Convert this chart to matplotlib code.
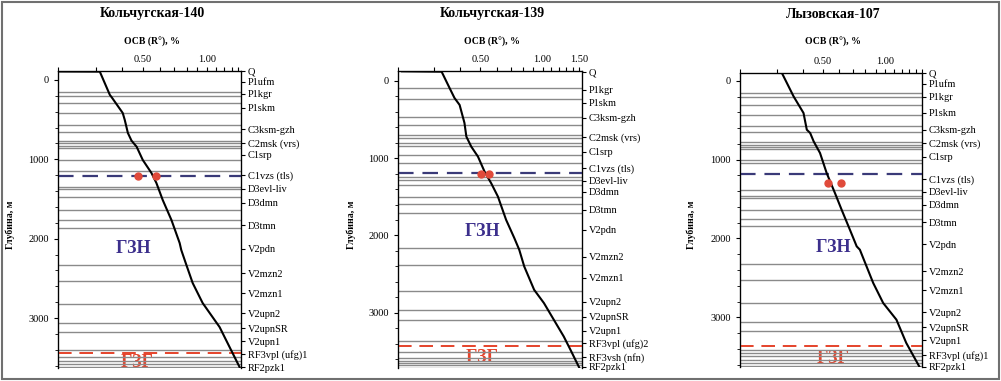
import numpy as np
import matplotlib.pyplot as plt
from matplotlib.patches import Rectangle
from matplotlib.ticker import FixedLocator, NullFormatter, MultipleLocator

plt.rcParams['font.family'] = ['Liberation Serif', 'DejaVu Serif']

# ---- Кольчугская-140 ----
K140_RO = [0.2, 0.314, 0.350, 0.356, 0.402, 0.411, 0.425, 0.442, 0.467, 0.499, 0.548,
           0.578, 0.619, 0.680, 0.743, 0.756, 0.799, 0.855, 0.952, 1.143, 1.273, 1.418]
K140_DEPTH = [-107, -105, 189, 214, 416, 504, 668, 765, 841, 1008, 1172,
              1298, 1513, 1765, 2055, 2143, 2332, 2559, 2811, 3114, 3366, 3618]
K140_BOUNDS = [147, 198, 290, 416, 567, 652, 765, 798, 832, 857, 1008, 1143, 1345,
               1378, 1471, 1639, 1765, 1869, 2332, 2534, 2824, 3067, 3180, 3403,
               3496, 3538, 3580, 3622]
K140_FM = ['Q', 'P1ufm', 'P1kgr', 'P1skm', 'C3ksm-gzh', 'C2msk (vrs)', 'C1srp',
           'C1vzs (tls)', 'D3evl-liv', 'D3dmn', 'D3tmn', 'V2pdn', 'V2mzn2', 'V2mzn1',
           'V2upn2', 'V2upnSR', 'V2upn1', 'RF3vpl (ufg)1', 'RF2pzk1']
K140_FM_DEPTH = [-113, 25, 176, 353, 618, 794, 945, 1198, 1374, 1550, 1828, 2130,
                 2433, 2685, 2937, 3126, 3290, 3454, 3618]
K140_DOTS_RO = [0.473, 0.574]
K140_DOTS_DEPTH = [1210, 1210]
K140_GZN = 1210
K140_GZG = 3445

# ---- Кольчугская-139 ----
K139_RO = [0.209, 0.325, 0.355, 0.375, 0.397, 0.419, 0.428, 0.452, 0.487, 0.524, 0.564,
           0.608, 0.666, 0.730, 0.771, 0.815, 0.910, 1.015, 1.133, 1.265, 1.363, 1.506]
K139_DEPTH = [-125, -120, 91, 220, 310, 543, 720, 850, 979, 1173, 1323,
              1496, 1797, 2034, 2185, 2401, 2703, 2875, 3091, 3307, 3479, 3715]
K139_BOUNDS = [94, 237, 462, 569, 698, 741, 806, 841, 957, 1064, 1238, 1280, 1345,
               1504, 1591, 1711, 2164, 2379, 2712, 2970, 3100, 3362, 3514, 3586,
               3621, 3651, 3682, 3715]
K139_FM = ['Q', 'P1kgr', 'P1skm', 'C3ksm-gzh', 'C2msk (vrs)', 'C1srp', 'C1vzs (tls)',
           'D3evl-liv', 'D3dmn', 'D3tmn', 'V2pdn', 'V2mzn2', 'V2mzn1', 'V2upn2',
           'V2upnSR', 'V2upn1', 'RF3vpl (ufg)2', 'RF3vsh (nfn)', 'RF2pzk1']
K139_FM_DEPTH = [-116, 116, 284, 478, 724, 918, 1125, 1293, 1435, 1668, 1927, 2276,
                 2548, 2858, 3052, 3233, 3388, 3569, 3698]
K139_DOTS_RO = [0.505, 0.552]
K139_DOTS_DEPTH = [1205, 1205]
K139_GZN = 1194
K139_GZG = 3427

# ---- Лызовская-107 ----
L107_RO = [0.205, 0.318, 0.362, 0.404, 0.419, 0.435, 0.452, 0.485, 0.522, 0.572, 0.616,
           0.675, 0.728, 0.754, 0.812, 0.874, 0.976, 1.130, 1.260, 1.460]
L107_DEPTH = [-100, -98, 199, 409, 621, 663, 769, 916, 1170, 1423, 1635,
              1888, 2100, 2142, 2354, 2564, 2818, 3029, 3324, 3629]
L107_BOUNDS = [156, 207, 304, 431, 570, 655, 782, 811, 840, 866, 1001, 1043, 1381,
               1458, 1492, 1644, 1753, 1847, 2320, 2522, 2818, 3063, 3177, 3410,
               3451, 3494, 3536, 3578, 3621]
L107_FM = ['Q', 'P1ufm', 'P1kgr', 'P1skm', 'C3ksm-gzh', 'C2msk (vrs)', 'C1srp',
           'C1vzs (tls)', 'D3evl-liv', 'D3dmn', 'D3tmn', 'V2pdn', 'V2mzn2', 'V2mzn1',
           'V2upn2', 'V2upnSR', 'V2upn1', 'RF3vpl (ufg)1', 'RF2pzk1']
L107_FM_DEPTH = [-100, 38, 203, 406, 621, 786, 963, 1242, 1407, 1572, 1800, 2079,
                 2421, 2662, 2941, 3131, 3295, 3485, 3637]
L107_DOTS_RO = [0.532, 0.612]
L107_DOTS_DEPTH = [1297, 1297]
L107_GZN = 1183
L107_GZG = 3359

RO_TICKS = [0.2, 0.3, 0.4, 0.5, 0.6, 0.7, 0.8, 0.9, 1.0, 1.1, 1.2, 1.3, 1.4, 1.5]

W, H = 1001.0, 381.0


def plot_well(fig, box, title, ro, depth, bounds, fm, fm_depth, dots_ro, dots_depth,
              gzn, gzg, xlim, ylim, xlabels, title_x, ylab_x, gzn_txt, gzg_txt):
    left, top, right, bottom = box
    ax = fig.add_axes([left / W, 1 - bottom / H, (right - left) / W, (bottom - top) / H])
    ax.set_xscale('log')
    ax.set_xlim(xlim)
    ax.set_ylim(ylim[1], ylim[0])

    for b in bounds:
        ax.axhline(b, color='#8a8a8a', lw=1.0, zorder=2)

    ax.axhline(gzn, color='#3a3a78', lw=1.6, dashes=(7, 4), zorder=3)
    ax.axhline(gzg, color='#e5432b', lw=1.4, dashes=(7, 4), zorder=3)

    ax.plot(ro, depth, color='black', lw=1.5, zorder=4)
    ax.plot(dots_ro, dots_depth, 'o', color='#e04a3a', markersize=5, zorder=5)

    ax.text(gzn_txt[0], gzn_txt[1], 'ГЗН', color='#3c2f8c', fontsize=13,
            fontweight='bold', ha='center', va='center', zorder=1)
    ax.text(gzg_txt[0], gzg_txt[1], 'ГЗГ', color='#e5432b', fontsize=13,
            fontweight='bold', ha='center', va='center', zorder=1)

    # top axis with Ro
    ax.xaxis.set_ticks_position('top')
    ax.xaxis.set_major_locator(FixedLocator(RO_TICKS))
    ax.xaxis.set_minor_locator(FixedLocator([]))
    ax.set_xticklabels(['%.2f' % t if t in xlabels else '' for t in RO_TICKS])
    ax.tick_params(axis='x', which='major', direction='out', length=3, labelsize=7.5,
                   pad=2, width=0.8)

    ax.yaxis.set_major_locator(FixedLocator([0, 1000, 2000, 3000]))
    ax.yaxis.set_minor_locator(MultipleLocator(200))
    ax.tick_params(axis='y', which='major', direction='out', length=3, labelsize=7.5,
                   width=0.8)
    ax.tick_params(axis='y', which='minor', direction='out', length=2, width=0.6)

    ax.spines['bottom'].set_visible(False)
    for s in ['top', 'left', 'right']:
        ax.spines[s].set_linewidth(0.9)

    ax2 = ax.twinx()
    ax2.set_ylim(ylim[1], ylim[0])
    ax2.set_yticks(fm_depth)
    ax2.set_yticklabels(fm)
    ax2.tick_params(axis='y', direction='out', length=3, labelsize=7.5, pad=2, width=0.8)
    ax2.spines['bottom'].set_visible(False)

    ax.text(0.5 * (left + right) / W + 0.0, 0, '', transform=fig.transFigure)
    fig.text(title_x / W, 1 - 14 / H, title, fontsize=10, fontweight='bold',
             ha='center', va='center')
    fig.text(title_x / W, 1 - 42 / H, 'ОСВ (R°), %', fontsize=7, fontweight='bold',
             ha='center', va='center')
    fig.text(ylab_x / W, 1 - 225 / H, 'Глубина, м', fontsize=7, fontweight='bold',
             rotation=90, ha='center', va='center')
    return ax


def main():
    fig = plt.figure(figsize=(W / 100, H / 100), dpi=100)
    fig.patch.set_facecolor('white')

    plot_well(fig, (58, 71, 241, 368), 'Кольчугская-140', K140_RO, K140_DEPTH,
              K140_BOUNDS, K140_FM, K140_FM_DEPTH, K140_DOTS_RO, K140_DOTS_DEPTH,
              K140_GZN, K140_GZG, (0.2, 1.44), (-113, 3630), [0.5, 1.0],
              152, 10, (0.45, 2130), (0.47, 3560))
    plot_well(fig, (398, 71, 582, 368), 'Кольчугская-139', K139_RO, K139_DEPTH,
              K139_BOUNDS, K139_FM, K139_FM_DEPTH, K139_DOTS_RO, K139_DOTS_DEPTH,
              K139_GZN, K139_GZG, (0.2, 1.55), (-129, 3715), [0.5, 1.0, 1.5],
              492, 351, (0.51, 1950), (0.51, 3580))
    plot_well(fig, (740, 73, 922, 367), 'Лызовская-107', L107_RO, L107_DEPTH,
              L107_BOUNDS, L107_FM, L107_FM_DEPTH, L107_DOTS_RO, L107_DOTS_DEPTH,
              L107_GZN, L107_GZG, (0.2, 1.5), (-98, 3629), [0.5, 1.0],
              833, 691, (0.56, 2110), (0.56, 3520))

    fig.patches.append(Rectangle((0.002, 0.004), 0.996, 0.99, transform=fig.transFigure,
                                 fill=False, edgecolor='#707070', lw=1.5))

    plt.savefig('out.png', dpi=100)


if __name__ == "__main__":
    main()
